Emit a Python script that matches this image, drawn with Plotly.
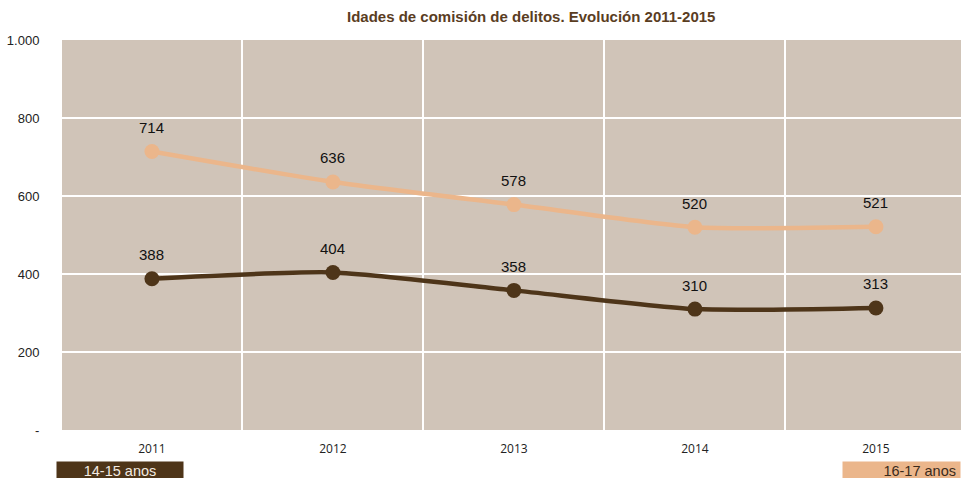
import plotly.graph_objects as go

years = ["2011", "2012", "2013", "2014", "2015"]
age_14_15 = [388, 404, 358, 310, 313]
age_16_17 = [714, 636, 578, 520, 521]
y_tickvals = [0, 200, 400, 600, 800, 1000]
y_ticktext = ["-", "200", "400", "600", "800", "1.000"]

DARK = "#4e3519"
LIGHT = "#ebb68b"
BG = "#d0c4b8"

xpos = list(range(len(years)))

fig = go.Figure()
annotations = []
for vals, color, name in [(age_16_17, LIGHT, "16-17 anos"), (age_14_15, DARK, "14-15 anos")]:
    fig.add_trace(go.Scatter(
        x=xpos, y=vals, name=name,
        mode="lines+markers",
        line=dict(color=color, width=4.5, shape="spline", smoothing=0.6),
        marker=dict(color=color, size=15),
        cliponaxis=False,
        showlegend=False,
    ))
    for xi, v in zip(xpos, vals):
        annotations.append(dict(
            x=xi, y=v, xref="x", yref="y", text=str(v), showarrow=False,
            yshift=24, font=dict(family="Liberation Sans, Arial", size=15, color="#111111"),
        ))

annotations += [
    dict(text="<b>Idades de comisión de delitos. Evolución 2011-2015</b>",
         x=(531 - 62) / 899, xref="paper", y=1.0 + (40 - 17) / 390, yref="paper", yanchor="middle",
         showarrow=False, font=dict(family="Liberation Sans, Arial", size=15, color="#5a3d1f")),
    dict(text="14-15 anos", xref="paper", yref="paper",
         x=(56 - 62) / 899, xanchor="left", y=-31 / 390, yanchor="top",
         showarrow=False, bgcolor=DARK, width=126, height=17, borderpad=0,
         font=dict(family="Liberation Sans, Arial", size=14.5, color="#f3ebe2")),
    dict(text="16-17 anos ", xref="paper", yref="paper",
         x=1.0, xanchor="right", y=-31 / 390, yanchor="top",
         showarrow=False, bgcolor=LIGHT, width=117, height=17, borderpad=0, align="right",
         font=dict(family="Liberation Sans, Arial", size=14.5, color="#3a2a1a")),
]

fig.update_layout(
    width=961, height=478,
    margin=dict(l=62, r=0, t=40, b=48),
    paper_bgcolor="white",
    plot_bgcolor=BG,
    annotations=annotations,
)

fig.update_xaxes(
    range=[-0.497, 4.47],
    tickvals=xpos, ticktext=years,
    showgrid=False, zeroline=False, showline=False,
    ticks="outside", ticklen=8, tickcolor="rgba(0,0,0,0)",
    tickfont=dict(family="Open Sans, Arial", size=12, color="#222222"),
    minor=dict(tick0=0.5, dtick=1, showgrid=True, gridcolor="white", gridwidth=2, ticks=""),
)
fig.update_yaxes(
    range=[0, 1000],
    tickvals=y_tickvals, ticktext=y_ticktext,
    showgrid=True, gridcolor="white", gridwidth=2,
    zeroline=False, showline=False,
    ticks="outside", ticklen=19, tickcolor="rgba(0,0,0,0)",
    tickfont=dict(family="Liberation Sans, Arial", size=13, color="#222222"),
)

fig.write_html("out.html", config={"displayModeBar": False},
               post_script="document.body.style.margin='0';document.body.style.overflow='hidden';")
